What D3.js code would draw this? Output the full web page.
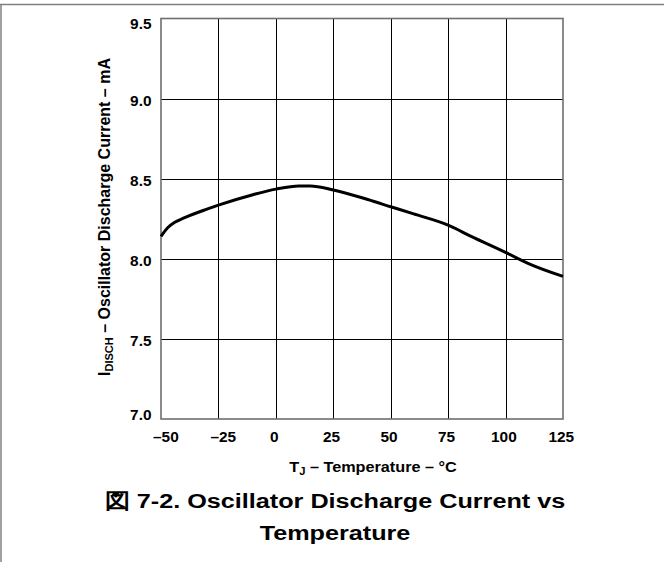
<!DOCTYPE html>
<html><head><meta charset="utf-8">
<script src="https://cdn.jsdelivr.net/npm/d3@7"></script>
<style>
html,body{margin:0;padding:0;background:#fff;}
svg{display:block;}
text{font-family:"Liberation Sans",Arial,sans-serif;font-weight:bold;fill:#000;}
</style></head>
<body>
<script>
const temps = [-50, -47, -44, -40, -30, -25, -10, 0, 10, 15, 25, 40, 50, 60, 75, 85, 100, 110, 125];
const current = [8.14, 8.195, 8.228, 8.255, 8.31, 8.335, 8.40, 8.435, 8.455, 8.455, 8.43, 8.37, 8.325, 8.28, 8.21, 8.14, 8.04, 7.97, 7.89];
const xTicks = [-50, -25, 0, 25, 50, 75, 100, 125];
const yTicks = [7.0, 7.5, 8.0, 8.5, 9.0, 9.5];

const W = 664, H = 562;
const FONT = '"Liberation Sans",Arial,sans-serif';
const svg = d3.select("body").append("svg").attr("width", W).attr("height", H);

// page frame
svg.append("line").attr("x1", 0).attr("x2", W).attr("y1", 4.5).attr("y2", 4.5).attr("stroke", "#808080").attr("stroke-width", 1.5);
svg.append("line").attr("x1", 1).attr("x2", 1).attr("y1", 4).attr("y2", H).attr("stroke", "#808080").attr("stroke-width", 1.5);

const L = 161, R = 563, T = 18.5, B = 419;
const x = d3.scaleLinear().domain([-50, 125]).range([L, R]);
const y = d3.scaleLinear().domain([7.0, 9.5]).range([B, T]);

// grid
const g = svg.append("g");
g.selectAll(".vx").data(xTicks.slice(1, -1)).enter().append("line")
  .attr("x1", d => Math.round(x(d)) + 0.5).attr("x2", d => Math.round(x(d)) + 0.5)
  .attr("y1", T).attr("y2", B).attr("stroke", "#000").attr("stroke-width", 1);
g.selectAll(".hy").data(yTicks.slice(1, -1)).enter().append("line")
  .attr("y1", d => Math.round(y(d)) + 0.5).attr("y2", d => Math.round(y(d)) + 0.5)
  .attr("x1", L).attr("x2", R).attr("stroke", "#000").attr("stroke-width", 1);
g.append("rect").attr("x", L).attr("y", T).attr("width", R - L).attr("height", B - T)
  .attr("fill", "none").attr("stroke", "#6e6e6e").attr("stroke-width", 1.6);

// x axis labels
const SX = 1.1;
const xAxis = d3.axisBottom(x).tickValues(xTicks).tickSize(0).tickPadding(0)
  .tickFormat(d => d < 0 ? "\u2013" + Math.abs(d) : d);
svg.append("g").attr("transform", `translate(0,${B})`).call(xAxis)
  .call(a => a.select(".domain").remove())
  .selectAll("text").attr("font-size", 14).attr("dy", null).attr("y", 23.5)
  .attr("dx", d => d < 0 ? 4 : -2)
  .attr("transform", `scale(${SX},1)`)
  .style("font-family", FONT).style("font-weight", "bold").attr("fill", "#000");

// y axis labels
const yAxis = d3.axisLeft(y).tickValues(yTicks).tickSize(0).tickPadding(0).tickFormat(d3.format(".1f"));
svg.append("g").attr("transform", `translate(${L},0)`).call(yAxis)
  .call(a => a.select(".domain").remove())
  .selectAll("text").attr("font-size", 14).attr("x", -9.5 / SX)
  .attr("dy", null).attr("y", d => d === 9.5 ? 10 : (d === 7.0 ? 0 : 7))
  .attr("transform", `scale(${SX},1)`)
  .style("font-family", FONT).style("font-weight", "bold").attr("fill", "#000");

// curve
const line = d3.line().x((d, i) => x(temps[i])).y(d => y(d)).curve(d3.curveMonotoneX);
svg.append("path").datum(current).attr("d", line).attr("fill", "none")
  .attr("stroke", "#000").attr("stroke-width", 3).attr("stroke-linejoin", "round");

// x label
const xl = svg.append("text").attr("transform", "translate(373,472) scale(1.12,1)").attr("text-anchor", "middle").attr("font-size", 14.5);
xl.append("tspan").text("T");
xl.append("tspan").attr("font-size", 10).attr("dy", 3).text("J");
xl.append("tspan").attr("dy", -3).text(" \u2013 Temperature \u2013 \u00B0C");

// y label
const yl = svg.append("text").attr("transform", `translate(110,217) rotate(-90)`).attr("text-anchor", "middle").attr("font-size", 16);
yl.append("tspan").text("I");
yl.append("tspan").attr("font-size", 11).attr("dy", 3).text("DISCH");
yl.append("tspan").attr("dy", -3).text(" \u2013 Oscillator Discharge Current \u2013 mA");

// caption
svg.append("text").attr("transform", "translate(335,508) scale(1.2,1)").attr("text-anchor", "middle").attr("font-size", 21)
  .text("\u56F3 7-2. Oscillator Discharge Current vs");
svg.append("text").attr("transform", "translate(335,540) scale(1.2,1)").attr("text-anchor", "middle").attr("font-size", 21)
  .text("Temperature");
</script>
</body></html>
